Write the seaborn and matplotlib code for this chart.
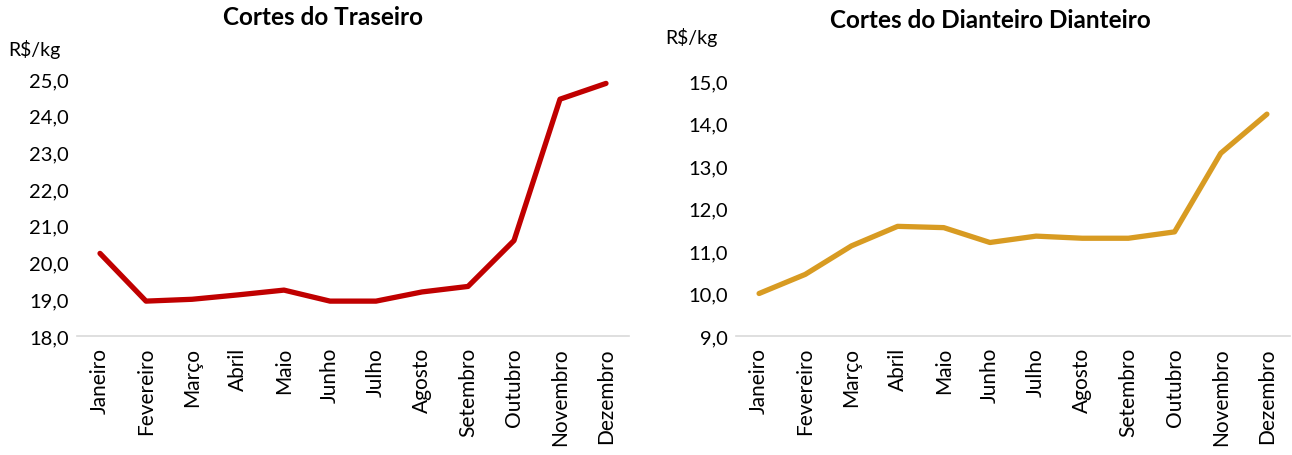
import matplotlib
matplotlib.use("Agg")
import matplotlib.pyplot as plt
import matplotlib.ticker as mticker
import pandas as pd
import seaborn as sns

# ---------------------------------------------------------------------------
# data
# ---------------------------------------------------------------------------
meses = ["Janeiro", "Fevereiro", "Março", "Abril", "Maio", "Junho",
         "Julho", "Agosto", "Setembro", "Outubro", "Novembro", "Dezembro"]
traseiro = [20.25, 18.95, 19.0, 19.12, 19.25, 18.95,
            18.95, 19.2, 19.35, 20.6, 24.45, 24.88]
dianteiro = [10.0, 10.45, 11.12, 11.58, 11.55, 11.2,
             11.35, 11.3, 11.3, 11.45, 13.3, 14.22]

sns.set_theme(style="white")
plt.rcParams["font.family"] = ["Lato", "DejaVu Sans"]
plt.rcParams["text.color"] = "black"
plt.rcParams["xtick.color"] = "black"
plt.rcParams["ytick.color"] = "black"


def comma_fmt(v, pos):
    return f"{v:.1f}".replace(".", ",")


def draw_panel(ax, values, color, title, ylim, title_x, yunit_x, yunit_y):
    df = pd.DataFrame({"mes": meses, "valor": values})
    sns.lineplot(data=df, x="mes", y="valor", ax=ax, color=color,
                 linewidth=3.8, sort=False)
    ax.lines[-1].set_solid_capstyle("round")
    ax.lines[-1].set_solid_joinstyle("round")
    ax.set_xlim(-0.5, len(meses) - 0.5)
    ax.set_ylim(*ylim)
    ax.yaxis.set_major_locator(mticker.MultipleLocator(1))
    ax.yaxis.set_major_formatter(mticker.FuncFormatter(comma_fmt))
    ax.set_xlabel("")
    ax.set_ylabel("")
    ax.tick_params(axis="x", labelrotation=90, labelsize=15, length=0, pad=8)
    ax.tick_params(axis="y", labelsize=14.5, length=0, pad=6)
    for s in ["top", "right", "left"]:
        ax.spines[s].set_visible(False)
    ax.spines["bottom"].set_color("#D9D9D9")
    ax.spines["bottom"].set_linewidth(1.2)
    ax.text(title_x, 1.0 + (62 / 456) / ax.get_position().height, title,
            transform=ax.transAxes, fontsize=17.5, fontweight="bold",
            ha="center", va="center")
    ax.text(yunit_x, yunit_y, "R$/kg", transform=ax.transAxes,
            fontsize=14, ha="left", va="center")


fig = plt.figure(figsize=(12.92, 4.56), dpi=100)
ax1 = fig.add_axes([77 / 1292, 119 / 456, 552 / 1292, 257 / 456])
ax2 = fig.add_axes([736 / 1292, 119 / 456, 554 / 1292, 255 / 456])

draw_panel(ax1, traseiro, "#C00000", "Cortes do Traseiro", (18, 25),
           0.446, -0.125, 1.117)
draw_panel(ax2, dianteiro, "#D89B22", "Cortes do Dianteiro Dianteiro", (9, 15),
           0.46, -0.128, 1.176)

fig.savefig("out.png", dpi=100)
